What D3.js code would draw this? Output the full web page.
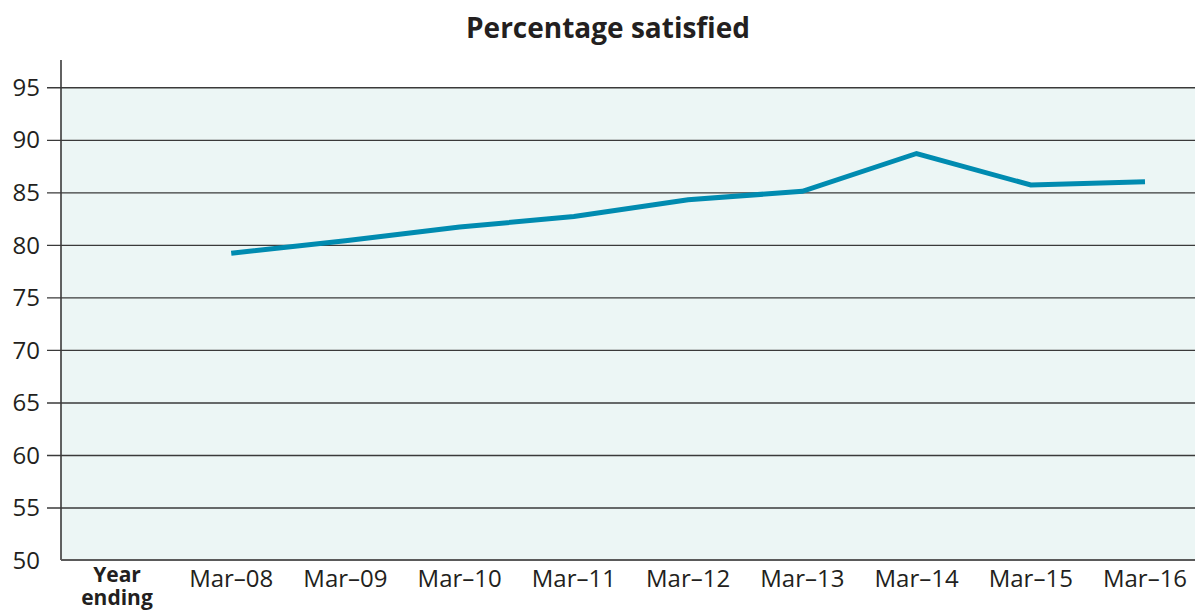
<!DOCTYPE html>
<html>
<head>
<meta charset="utf-8">
<script src="https://d3js.org/d3.v7.min.js"></script>
<style>
  body { margin: 0; background: #fff; }
  svg { display: block; font-family: "Open Sans", sans-serif; }
</style>
</head>
<body>
<svg id="chart" width="1195" height="613"></svg>
<script>
// --- data ---
const categories = ["Mar–08", "Mar–09", "Mar–10", "Mar–11", "Mar–12", "Mar–13", "Mar–14", "Mar–15", "Mar–16"];
const satisfied = [79.2, 80.4, 81.7, 82.7, 84.3, 85.1, 88.7, 85.7, 86.0];
const yTicks = [50, 55, 60, 65, 70, 75, 80, 85, 90, 95];
const title = "Percentage satisfied";
const xCaption = ["Year", "ending"];

const plotLeft = 61, plotRight = 1195, plotBottom = 560, plotTop = 60;

const svg = d3.select("#chart");

const y = d3.scaleLinear().domain([50, 97.6]).range([plotBottom, plotTop]);
// first slot holds the "Year ending" caption
const x = d3.scalePoint().domain(["__caption"].concat(categories)).range([117, 1145]);

// shaded plot area (from 50 up to the top gridline)
svg.append("rect")
  .attr("x", plotLeft).attr("y", y(95))
  .attr("width", plotRight - plotLeft).attr("height", plotBottom - y(95))
  .attr("fill", "#ecf6f5");

// gridlines (they poke out left of the axis as tick marks)
const gy = svg.append("g")
  .attr("transform", `translate(${plotRight},0)`)
  .call(d3.axisLeft(y).tickValues(yTicks.filter(v => v > 50)).tickSize(plotRight - 47).tickFormat(""));
gy.select(".domain").remove();
gy.selectAll(".tick line").attr("stroke", "#3a3a3a").attr("stroke-width", 1.4);

// tick labels
svg.append("g").selectAll("text")
  .data(yTicks)
  .enter().append("text")
  .attr("x", 40).attr("y", d => y(d))
  .attr("dy", "0.36em")
  .attr("text-anchor", "end")
  .attr("font-size", 24)
  .attr("fill", "#231f20")
  .text(d => d);

// axes lines
svg.append("line")
  .attr("x1", plotLeft).attr("x2", plotLeft).attr("y1", plotTop).attr("y2", plotBottom)
  .attr("stroke", "#3a3a3a").attr("stroke-width", 1.6);
svg.append("line")
  .attr("x1", plotLeft).attr("x2", plotRight).attr("y1", plotBottom).attr("y2", plotBottom)
  .attr("stroke", "#5a5a5a").attr("stroke-width", 2.2);

// category labels
svg.append("g").selectAll("text")
  .data(categories)
  .enter().append("text")
  .attr("x", d => x(d)).attr("y", 587)
  .attr("text-anchor", "middle")
  .attr("font-size", 24)
  .attr("fill", "#231f20")
  .text(d => d);

// "Year ending" caption, two lines
svg.append("g").selectAll("text")
  .data(xCaption)
  .enter().append("text")
  .attr("x", x("__caption"))
  .attr("y", (d, i) => 582 + i * 23)
  .attr("text-anchor", "middle")
  .attr("font-size", 21).attr("font-weight", "bold")
  .attr("fill", "#231f20")
  .text(d => d);

// series line
const line = d3.line()
  .x((d, i) => x(categories[i]))
  .y(d => y(d));

svg.append("path")
  .datum(satisfied)
  .attr("d", line)
  .attr("fill", "none")
  .attr("stroke", "#008bb0")
  .attr("stroke-width", 5);

// title
svg.append("text")
  .attr("x", 608).attr("y", 38)
  .attr("text-anchor", "middle")
  .attr("font-size", 28).attr("font-weight", "bold")
  .attr("fill", "#231f20")
  .text(title);
</script>
</body>
</html>
